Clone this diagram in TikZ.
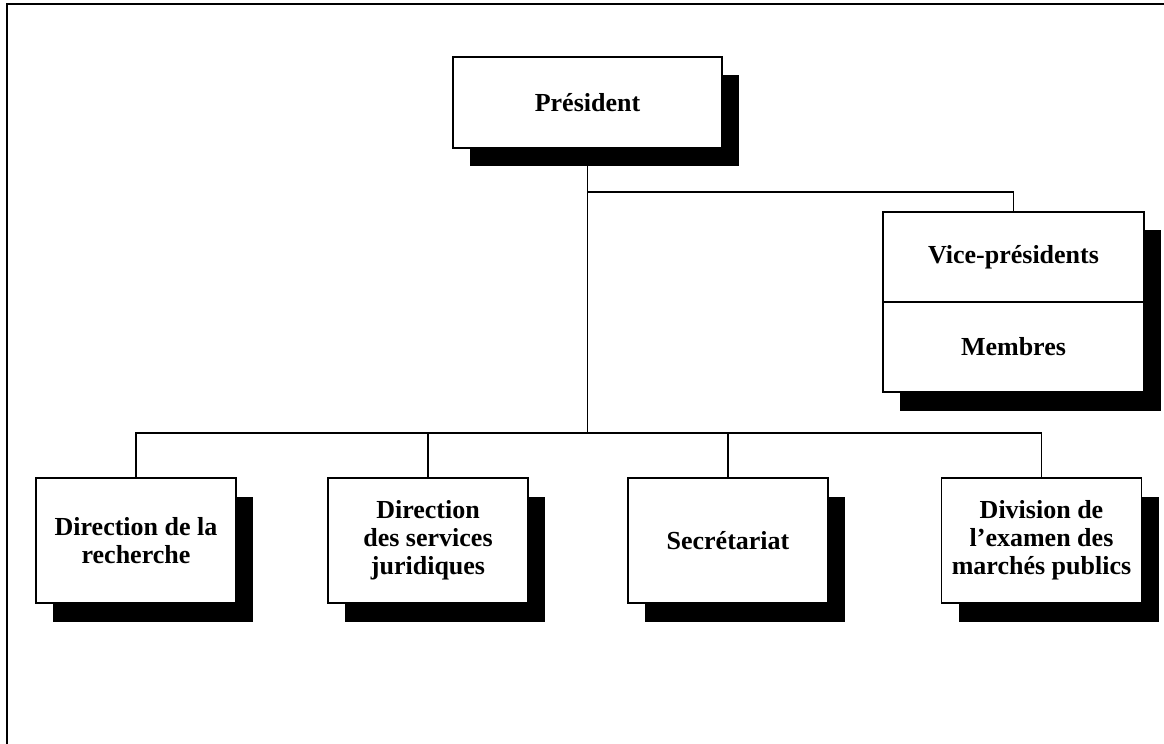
\documentclass[tikz,border=0pt]{standalone}
\usepackage{fontspec}
\setmainfont{Liberation Serif}
\usepackage{tikz}
\usetikzlibrary{positioning, shadows, calc}

\begin{document}
\begin{tikzpicture}[x=0.02cm, y=-0.02cm,
  font=\fontsize{14.8}{16}\selectfont\bfseries,
  orgbox/.style={draw, line width=1.1pt, fill=white, align=center, inner sep=2pt,
    drop shadow={shadow xshift=0.34cm, shadow yshift=-0.37cm, fill=black, opacity=1}},
  link/.style={line width=1.1pt}]
\useasboundingbox (0,0) rectangle (1164,744);

% Frame
\draw[line width=1.5pt] (7,744) -- (7,4) -- (1164,4);

% President
\node[orgbox, minimum width=269*0.02cm, minimum height=91*0.02cm] (pres) at (587.5,102.5) {Président};

% Vice-presidents and members
\node[orgbox, minimum width=261*0.02cm, minimum height=90*0.02cm] (vp) at (1013.5,257) {Vice-présidents};
\node[orgbox, minimum width=261*0.02cm, minimum height=90*0.02cm] (memb) at (1013.5,347) {Membres};

% Directions
\foreach \name/\x/\txt in {rech/136/{Direction de la\\recherche},
                           jur/428/{Direction\\des services\\juridiques},
                           sec/728/{Secrétariat},
                           marches/1041.5/{Division de\\l’examen des\\marchés publics}}
  \node[orgbox, minimum width=200*0.02cm, minimum height=125*0.02cm] (\name) at (\x,540.5) {\txt};

% Connectors
\coordinate (topbus) at (587.5,192);
\coordinate (lowbus) at (587.5,433);
\draw[link] (pres.south) -- (lowbus);
\draw[link] (topbus) -| (vp.north);
\foreach \name in {rech, jur, sec, marches}
  \draw[link] (lowbus) -| (\name.north);
\end{tikzpicture}
\end{document}
